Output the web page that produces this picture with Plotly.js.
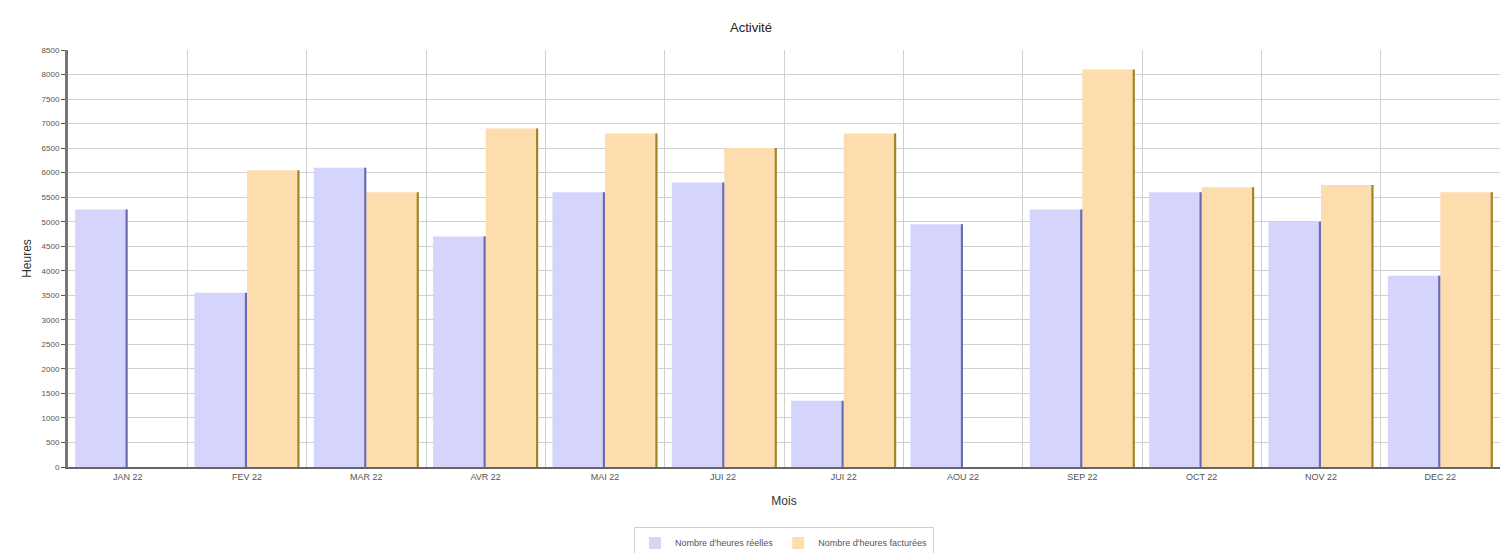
<!DOCTYPE html>
<html>
<head>
<meta charset="utf-8">
<script src="https://cdn.plot.ly/plotly-3.0.1.min.js"></script>
<style>html,body{margin:0;padding:0;background:#fff}#chart{width:1502px;height:553px}</style>
</head>
<body>
<div id="chart"></div>
<script>
var months = ["JAN 22","FEV 22","MAR 22","AVR 22","MAI 22","JUI 22 ","JUI 22","AOU 22","SEP 22","OCT 22","NOV 22","DEC 22"];
var heuresReelles = [5250, 3550, 6100, 4700, 5600, 5800, 1350, 4950, 5250, 5600, 5000, 3900];
var heuresFacturees = [0, 6050, 5600, 6900, 6800, 6500, 6800, 0, 8100, 5700, 5750, 5600];
var yTicks = [0,500,1000,1500,2000,2500,3000,3500,4000,4500,5000,5500,6000,6500,7000,7500,8000,8500];

var traces = [
  {type:'bar', name:"Nombre d'heures réelles", x:months, y:heuresReelles,
   offset:-0.44, width:0.44, marker:{color:'#d4d4fc', line:{width:0}}, hoverinfo:'x+y'},
  {type:'bar', name:"Nombre d'heures facturées", x:months, y:heuresFacturees,
   offset:0, width:0.44, marker:{color:'#fddcae', line:{width:0}}, hoverinfo:'x+y'},
  {type:'bar', x:months, y:heuresReelles, showlegend:false, hoverinfo:'skip',
   offset:-0.018, width:0.018, marker:{color:'#6b6bb0', line:{width:0}}},
  {type:'bar', x:months, y:heuresFacturees, showlegend:false, hoverinfo:'skip',
   offset:0.422, width:0.018, marker:{color:'#a08428', line:{width:0}}}
];

var layout = {
  width:1502, height:553,
  margin:{l:68, r:2, t:50, b:86, autoexpand:false},
  paper_bgcolor:'#ffffff', plot_bgcolor:'#ffffff',
  barmode:'overlay',
  font:{family:'Liberation Sans, Arial, sans-serif', size:9, color:'#444'},
  title:{text:'Activité', x:0.5, xanchor:'center', y:0.95, yanchor:'middle', font:{size:13, color:'#222'}},
  xaxis:{type:'category', tickson:'boundaries', showgrid:true, gridcolor:'#d0d0d0', gridwidth:1,
         ticks:'', showline:true, linecolor:'#666', linewidth:2,
         title:{text:'Mois', font:{size:12, color:'#333'}, standoff:16}, tickfont:{size:9, color:'#555'},
         range:[-0.5, 11.5], automargin:false},
  yaxis:{range:[0,8500], tickvals:yTicks, showgrid:true, gridcolor:'#d0d0d0', gridwidth:1,
         showline:true, linecolor:'#777', linewidth:3, ticks:'outside', ticklen:4, tickcolor:'#555',
         zeroline:false, title:{text:'Heures', font:{size:12, color:'#333'}, standoff:8},
         tickfont:{size:8, color:'#555'}, automargin:false},
  legend:{orientation:'h', x:0.5, xanchor:'center', y:-0.145, yanchor:'top',
          bordercolor:'#cfcfcf', borderwidth:1, font:{size:9, color:'#555'}, bgcolor:'#fff',
          itemwidth:30, tracegroupgap:0},
  showlegend:true
};
Plotly.newPlot('chart', traces, layout, {displayModeBar:false, staticPlot:true});
</script>
</body>
</html>
